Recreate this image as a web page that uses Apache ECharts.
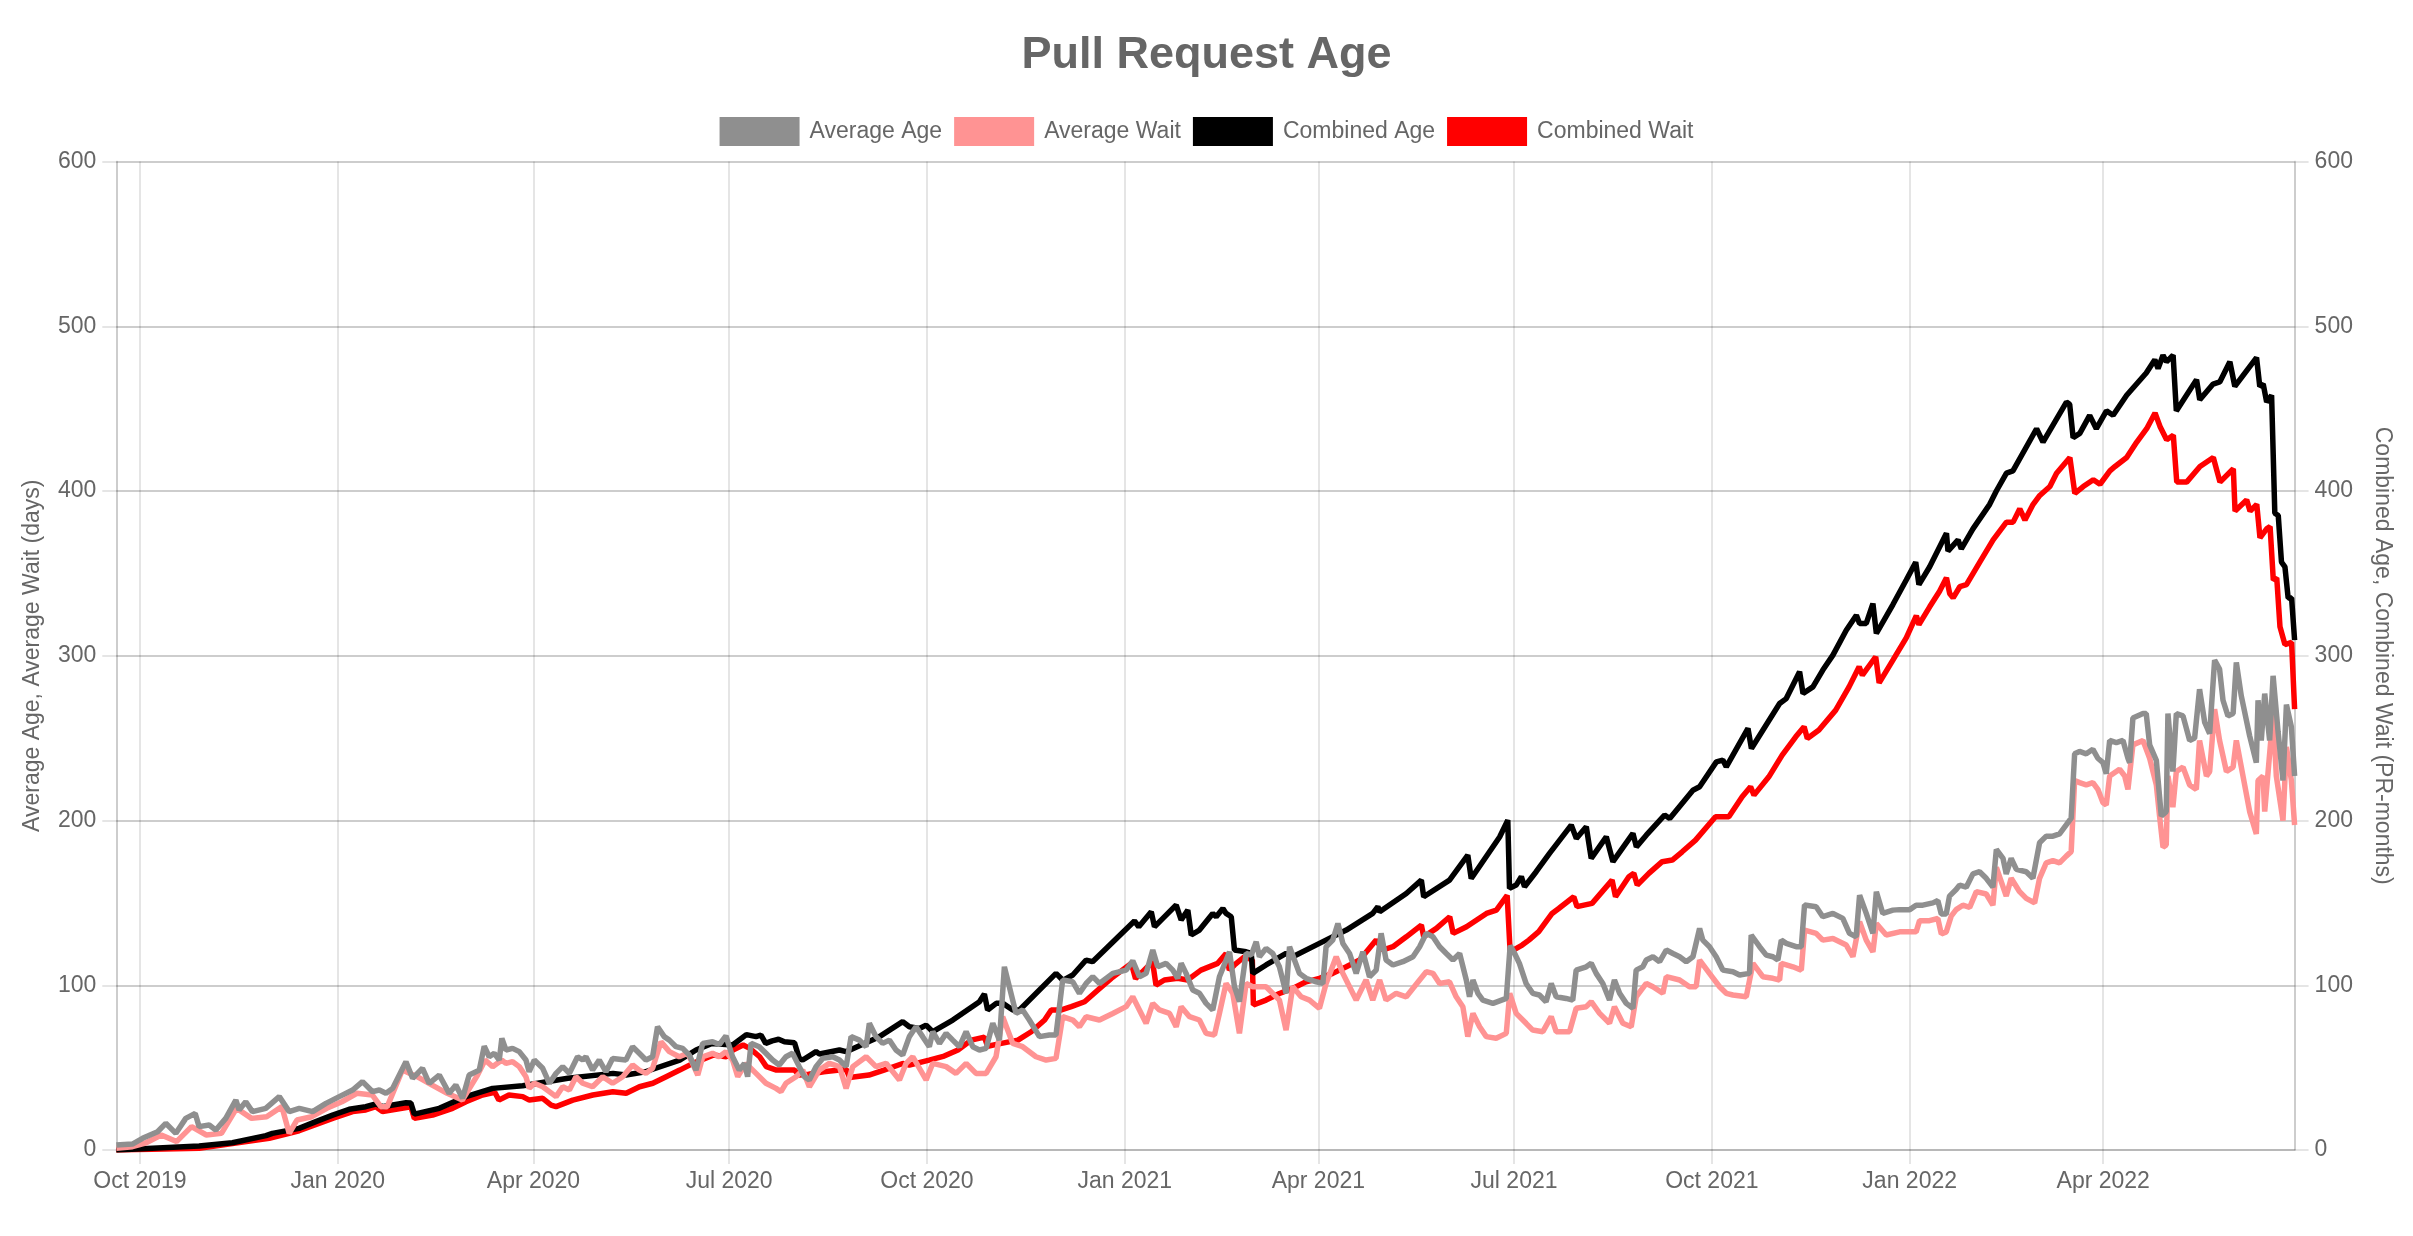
<!DOCTYPE html>
<html>
<head>
<meta charset="utf-8">
<script src="https://cdn.jsdelivr.net/npm/echarts@6/dist/echarts.min.js"></script>
<style>
html,body{margin:0;padding:0;background:#fff;}
#chart{width:2413px;height:1236px;}
</style>
</head>
<body>
<div id="chart"></div>
<script>
// ---- data: x = days since 2019-09-20, y = value ----
const startDate = [2019, 8, 20];
const seriesNames = ['Average Age', 'Average Wait', 'Combined Age', 'Combined Wait'];

const averageAgeDays = [
 0,7.5,12.2,19.2,23,27.7,32.3,36.7,38.5,43.2,
 46.3,50.9,55.6,57.1,60.2,63.3,69.5,75.8,80.4,85.1,
 91.3,97.5,103.7,109.9,114.5,119.2,122.3,125.4,128.5,134.7,
 137.8,142.4,145.5,150.2,154.8,157.9,161,164.1,168.8,171.1,
 173.4,175.8,178.1,179.3,181.2,184.3,187.4,190.5,192,194.4,
 198.3,201.4,204.5,207.6,210.7,214.5,216.9,218.4,221.5,224.6,
 227.7,230.8,237,240.1,243.2,246.3,249.4,251.7,254.8,257.2,
 260.3,263.4,266.5,269.6,272.7,277.3,280.4,283.5,286.6,289.7,
 292.1,293.6,295.2,299,302.1,305.2,308.3,311.4,314.5,317.6,
 320,322.3,325.4,328.5,333.2,336.3,339.4,341.7,345.6,348.7,
 350.2,353.3,356.4,359.5,362.6,365.7,368.8,371.9,375,378.1,
 379.7,382.8,385.9,389,392.1,395.2,398.3,401.4,404.5,407.6,
 410.7,413,415.3,418.4,421.5,424.6,429.3,433.9,437,440.1,
 444.8,447.9,451,454.1,457.2,463.4,469.6,472.7,475.8,478.9,
 482,484.3,488.2,491.3,493.6,495.2,497.5,500.6,503.7,506.8,
 509.9,513,517.7,520,522.3,525.4,527.8,530.1,531.6,534.7,
 537.8,540.9,544,545.6,547.9,550.2,553.3,558,561.1,562.6,
 565.7,568.1,570.4,573.5,576.6,579.7,582.8,585.9,588.2,590.5,
 593.7,598.3,603,606.1,609.2,612.3,615.4,618.5,621.6,624.7,
 627.8,629.3,630.9,633.2,635.5,640.2,646.4,648.2,650.3,652.5,
 655.6,658.7,661.8,664.9,667.3,669.6,674.2,677.3,678.9,683.6,
 685.9,688.2,691.3,694.4,696.7,699.1,702.2,705.3,706.8,709.9,
 711.5,714.6,717.7,720.8,723.9,727,730.1,733.2,736.3,737.8,
 740.9,744,747.1,751.8,754.9,759.5,760.3,764.2,767.3,770.4,
 772.7,774.3,776.6,781.2,783.6,785.1,790.5,793.6,798.3,802.9,
 806,809.1,810.7,813.8,816.9,818.5,821.5,826.2,829.3,834,
 837,840.1,844.8,847.1,848.7,851,852.5,855.6,857.2,860.3,
 863.4,866.5,869.6,872.7,874.3,877.4,878.9,881.2,883.6,888.2,
 891.3,894.4,897.5,900.6,903.7,906.8,909.1,910.7,913,916.1,
 919.2,921.5,923.9,925.4,927,930.1,933.2,935.5,936.3,937.8,
 942.5,944,945.6,948.7,951,953.3,954.1,956.4,958,961.1,
 964.2,966.5,968.8,971.2,973.5,975.8,978.1,979.7,982,984.4,
 985.9,988.2,992.1,995.2,996,997.5,999.1,1001.4,1003,1005.3,
 1007.6,1009.2,1011.5,1013
];
const averageAgeValues = [
 3,3.6,7.1,11.1,16.2,10.1,19.2,22.2,14.2,15.2,
 12.1,19.2,30.3,24.3,29.3,23.3,25.3,32.4,23.3,25.3,
 23.3,28.3,32.4,36.4,41.5,35.4,36.4,34.4,37.4,53.6,
 43.5,49.6,40.5,45.5,34.4,39.4,31.4,45.5,48.5,63,
 56.6,58.7,54.6,67.8,60.7,61.7,59.7,54.6,47.5,54.6,
 49.6,40.5,46.5,50.6,46.5,56.6,54.6,56.6,48.5,54.6,
 47.5,55.6,54.6,62.7,58.7,54.6,56.6,74.8,68.8,66.7,
 62.7,61.7,57.6,48.5,64.7,65.7,64,69.3,56.6,48.5,
 52.6,44.5,64.7,62.7,58.7,54.6,51.6,56.6,58.7,50.6,
 44.5,42.5,50.6,55.6,56.6,54.6,50.6,68.8,66.7,62.7,
 76.9,68.8,64.7,66.7,60.7,57.6,68.8,74.8,68.8,62.7,
 71.8,64.7,70.8,66.7,62.7,71.8,62.7,60.7,61.7,76.9,
 66.7,111.2,99.1,82.9,85,78.9,68.8,69.8,69.8,103.2,
 102.1,95.1,101.1,105.2,101.1,107.2,109.2,114.8,105.2,107.2,
 121.4,111.2,113.3,109.2,104.2,113.3,107.2,97.1,95.1,89,
 85,105.2,120.3,99.1,90,119.3,118.3,126.4,117.3,122.4,
 119.3,111.2,95.1,123.4,115.3,107.2,104.2,102.1,101.1,123.4,
 127.4,137.5,125.4,119.3,107.2,120.3,105.2,109.2,131.5,115.3,
 112.3,114.3,117.3,123.4,131.5,129.4,123.4,119.3,115.3,119.3,
 103.2,93,103.2,95.1,91,89,92,124,119.3,113.3,
 101.1,95.1,94.1,90,101.1,93,92,91,109.2,111.2,
 113.3,107.2,101.1,91,103.2,95.1,89,86,109.2,111.2,
 115.3,117.3,114.3,121.4,119.3,117.3,114.3,117.3,134.5,127.4,
 123.4,117.3,109.2,108.2,106.2,107.2,130.5,123.4,118.3,117.3,
 115.3,127.4,125.4,123.4,123.4,148.7,147.7,141.6,143.6,140.6,
 131.5,129.4,154.7,143.6,131.5,156.8,143.6,145.6,145.9,145.9,
 148.6,148.6,150,151.4,143.2,143.2,154.1,158.1,160.8,159.5,
 167.6,168.9,164.9,159.5,182.4,177,167.6,177,170.3,168.9,
 164.9,186.5,190.5,190.5,191.9,197.3,201.4,240.5,241.9,240.5,
 243.2,237.8,235.1,228.4,248.6,247.3,248.6,237.8,235.1,262.2,
 264.9,264.9,245.9,236.5,202.7,205.4,264.9,229.7,264.9,263.5,
 248.6,250,279.7,259.5,252.7,297.3,291.9,273,263.5,264.9,
 295.9,275.7,251.4,235.1,273,248.6,277,248.6,287.8,254.1,
 224.3,270.3,256.8,227
];

const averageWaitDays = [
 0,7.5,13.9,20.9,28,35,41.9,48.9,55.9,62.9,
 69.9,77,80.4,84,90.9,97.9,104.9,111.9,119,123,
 126,133,139.9,146.9,153.9,160.9,168,171.5,175,179.3,
 181.2,184.3,187.4,190.5,192,194.4,198.3,204.5,207.6,210.7,
 213.8,216.9,221.5,226.2,230.8,235.5,240.1,243.2,246.3,249.4,
 253.3,257.2,261.8,265.7,268,270.4,272.7,277.3,280.4,283.5,
 286.6,289,292.8,297.5,302.1,306.8,309.1,311.4,316.1,319.2,
 322.3,326.9,331.6,336.3,339.4,342.5,348.7,353.3,358,364.2,
 367.3,370.4,376.6,379.7,385.9,390.5,395.2,399.8,404.5,409.1,
 412.2,416.9,421.5,427.7,432.4,437,440.1,444.8,447.9,451,
 457.2,463.4,469.6,472.7,475.8,478.9,482,485.1,489.8,492.9,
 495.2,499.1,503.7,506.8,510.7,513,516.1,519.2,522.3,525.4,
 528.5,534.7,540.9,544,547.1,551,554.9,559.5,562.6,567.3,
 570.4,573.5,576.6,581.2,584.3,587.5,590.5,595.2,599.9,606.1,
 609.2,612.3,615.4,620,623.1,626.2,628.5,630.9,634,637.1,
 641.7,646.4,648,651,655.6,658.7,663.4,667.3,669.6,675.8,
 678.9,683.6,685.9,689.8,694.4,696.7,700.6,704.5,706.8,711.5,
 714.6,719.2,720.8,727,731.6,734.7,736.3,740.9,745.6,748.7,
 751.8,758,761.1,765.7,770.4,773.5,774.3,779.7,783.6,785.1,
 790.5,793.6,798.3,804.5,807.6,810.7,813.8,816.9,818.5,823.1,
 829.3,834,837,838.6,843.2,847.1,848.7,851,853.3,855.6,
 858.7,861.9,865,869.6,872.7,874.3,878.9,881.2,885.1,888.2,
 892.1,894.4,897.5,900.6,903.7,906.8,909.1,910.7,913,916.1,
 919.2,921.5,923.9,925.4,927,931.6,934,935.5,937.8,942.5,
 945.6,948.7,950.2,951.8,953.3,954.1,956.4,958,961.1,964.2,
 967.3,968.8,972,973.5,975.8,978.1,981.3,984.4,985.9,989,
 992.1,995.2,996,998.3,999.1,1000.6,1003,1004.5,1007.6,1009.2,
 1011.5,1013
];
const averageWaitValues = [
 1,2,4.4,9.1,5.1,14.2,9.1,10.1,25.3,19.2,
 20.2,26.3,10.1,18.2,20.2,25.3,29.3,34.4,33.4,26.3,
 26.3,48.5,44.5,39.4,34.4,30.3,45.5,54.6,50.6,54.6,
 52.6,53.6,50.6,44.5,37.4,40.5,38.4,32.4,38.4,36.4,
 44.5,40.5,38.4,44.5,40.5,44.5,51.6,48.5,46.5,49.6,
 65.7,59.7,56.6,58.7,52.6,45.5,56.6,58.7,56.6,59.7,
 54.6,44.5,52.6,46.5,40.5,37.4,35.4,40.5,44.5,48.5,
 38.4,48.5,52.6,50.6,37.4,50.6,56.6,50.6,52.6,42.5,
 52.6,56.6,42.5,52.6,50.6,46.5,52.6,46.5,46.5,56.6,
 80.9,64.7,62.7,56.6,54.6,55.6,80.9,78.9,74.8,80.9,
 78.9,82.9,87,93,85,76.9,89,85,82.9,74.8,
 87,80.9,78.9,70.8,69.8,82.9,101.1,95.1,70.8,101.1,
 99.1,99.1,91,72.8,99.1,93,91,86,101.1,117.3,
 107.2,99.1,91,103.2,91,103.2,91,95.1,93,103.2,
 108.2,107.2,101.1,102.1,93,87,68.8,82.9,74.8,68.8,
 67.8,70.8,95.1,82.9,76.9,72.8,71.8,80.9,71.8,71.8,
 86,87,90,82.9,76.9,87,76.9,74.8,93,101.1,
 99.1,95.1,105.2,103.2,99.1,99.1,115.3,107.2,99.1,95.1,
 94.1,93,113.3,105.2,104.2,103.2,113.3,111.2,109.2,133.5,
 131.5,127.4,128.4,124.4,117.3,138.6,127.4,120.3,137.5,130.5,
 132.4,132.4,132.4,139.2,139.2,140.5,131.1,132.4,141.9,145.9,
 148.6,147.3,156.8,155.4,148.6,171.6,154.1,164.9,156.8,152.7,
 150,164.9,174.3,175.7,174.3,178.4,181.1,224.3,223,221.6,
 223,218.9,210.8,209.5,227,231.1,227,218.9,245.9,248.6,
 237.8,221.6,202.7,183.8,185.1,227,208.1,229.7,232.4,221.6,
 218.9,248.6,227,229.7,267.6,248.6,229.7,232.4,248.6,227,
 205.4,191.9,224.3,227,205.4,228.4,264.9,227,200,244.6,
 224.3,197.3
];

const combinedAgeDays = [
 0,38.5,54,69.6,72.6,85,92.8,100.6,108.3,116,
 120.7,123.8,134.7,137,138.6,150.2,162.6,175,189,196,
 210,231,237,246,262,269.6,277,286.6,293,297.5,
 299.8,302,305,308,310.7,315.4,317.6,319.2,325.4,327,
 336.3,339.4,354.9,365.7,368.8,373.5,376.6,379.7,389,401.4,
 403.7,405.2,409.2,412.3,416.9,420,437,440.2,444.8,451,
 454,473.5,475.5,481.3,482.8,486.7,492.9,495.2,498.3,499.9,
 503.7,509.9,511.5,514.6,516.1,518.5,520,525.4,527.8,528.5,
 534.7,544,547.1,559.5,572,584.3,586.7,587.5,599.9,606.9,
 608,620,628.5,630.1,643.3,647.1,647.9,651,653.4,654.9,
 660.3,666.5,676.6,679,683.6,685.9,692.9,696,705.3,706.9,
 711.5,720,722.4,733.2,736.3,744.1,747.1,748.7,758.8,760.4,
 773.5,776.6,782.8,784.4,789,793.6,798.3,804.5,809.2,810.7,
 813.8,816.9,818.5,826.2,832.4,836.8,838.3,843.3,851.1,851.8,
 856.5,858,863.4,871.2,874.3,879,882,893,896,906.9,
 908.4,910,913.1,917.7,920.8,925.5,928.6,934.9,944,948,
 949.5,951.8,953.4,956.5,958,967.4,968.9,975.1,978.2,982.9,
 985.2,995.3,996.8,998.4,1000,1002.3,1003.8,1005.4,1006.9,1008.5,
 1010,1011.6,1013
];
const combinedAgeValues = [
 0,2.4,4.4,8.7,10.1,13.1,17.2,21.2,24.7,26.3,
 27.9,26.3,28.7,28.5,21.8,25.3,32.4,37.4,39,40.5,
 43.5,46.5,45.5,47.5,54.6,60.7,64.7,63.7,70,68.8,
 69.8,64.7,66.2,67.2,65.7,65.1,55.6,54.6,59.7,58.3,
 60.7,59.7,68.8,77.9,74.8,73.8,75.8,71.8,78.9,90,
 94.7,85,89,89,85,85,107.2,103,106.2,115.3,
 114.3,139,135.5,144.6,135.5,140.6,148.7,139.6,145.6,130.5,
 133.5,143.6,141.6,146.6,143.6,141.6,121.4,120.3,119.3,107.2,
 112.3,119.3,117.3,125.4,133.5,143.6,147.7,144.6,155.7,163.8,
 153.7,163.8,179,164.8,190,200.2,158.8,160.8,165.9,159.8,
 168.9,180,197.2,189.1,196.2,177,190.1,175,192.2,184,
 191.1,203.3,201.2,218.4,220.5,235.6,236.7,232.6,255.9,243.7,
 271,274,290.3,277.1,281.1,291.3,300.4,315.5,324.6,319.6,
 319.6,331.7,313.5,331.1,346,356.8,343.2,354,374.3,363.5,
 370.3,364.9,377,391.9,400,410.8,412.2,437.8,429.7,454,
 452.7,432.4,435,445.9,437.8,448.6,446,458.1,471.6,479.7,
 474.3,482.4,478.4,482.4,448.6,467.6,455.4,464.9,466.2,478.4,
 463.5,481,463.5,464.9,454,458,386.5,385.1,356.8,354,
 335.1,335.1,309.5
];

const combinedWaitDays = [
 0,38.5,71.1,85,100.6,109.9,116,120.7,123.8,137,
 138.6,147.1,156.4,162.6,170.3,176,177.9,182.6,189,192.1,
 198.3,202.2,204.5,212.3,221.6,230.9,237.1,243.3,249.5,255.7,
 262,268.2,277.5,283.7,286.8,291.5,294.6,299.2,302.3,307,
 315.4,317.6,322,329,339.4,341,350,357,365.7,368.8,
 378,385,391.4,397.6,403.7,405.2,411.6,419.3,425.5,431.7,
 434.8,439.5,444.1,450.3,456.5,462.7,472,474,479.6,481.9,
 483.5,487.4,493.6,498.2,504.4,512.2,516.1,517.6,520,524.6,
 528.3,528.8,534.7,540.9,547.1,553.3,559.5,565.7,572,578.2,
 585.9,589,593.7,599.9,606.9,608,613.9,620.1,621.7,627.9,
 637.2,641.8,646.8,648.2,653.8,656.9,661.5,667.7,670.8,677.8,
 679.3,686.3,695.6,697.2,703.4,705.7,707.3,712.7,718.9,723.6,
 728.2,734.4,743.7,749.9,756.1,760,761.6,768.5,774.7,781,
 784.9,786.4,791.8,799.6,805.8,810.5,812,818.2,819.8,826.2,
 832.4,837.1,838.3,843.3,847.9,851.1,852.6,854.2,857.3,860.4,
 866.6,872.8,879,882.1,885.2,887.6,891.4,894.5,899.2,902.3,
 908.5,910.8,914.7,919.4,922.5,927.1,929.5,934.9,939.6,944.2,
 948.1,950.4,953.5,956.6,958.2,962.8,969,975.2,978.3,984.5,
 985.3,990.7,992.3,995.4,996.9,1000,1001.6,1003.1,1004.7,1006.2,
 1008.5,1011.6,1013
];
const combinedWaitValues = [
 0,1,7.1,11.7,19.2,23.3,24.3,26.3,23.3,26.3,
 19.2,21.2,25.3,29.3,33.4,35,30.3,33.4,32.4,30.3,
 31.4,27.3,26.3,30.3,33.4,35.4,34.4,38.4,40.5,44.5,
 48.5,52.6,57.6,56.6,60.7,63.7,61.7,56.6,50.6,48.5,
 48.5,45.5,46,47.5,49,44,45.5,48.5,52.5,51.5,
 54.6,57,60.7,66.7,68.5,63,64.7,66.7,71.8,78.9,
 85,85,87,90,97.1,104.2,113.3,104,111.2,114.3,
 100.1,103.2,104.2,103.2,109.2,113.3,119.3,109.2,112.3,117.3,
 115.3,88,91,95,98.1,102.1,104.2,107.2,111.2,115.3,
 127.4,121.4,123.4,129.4,136.5,129.4,134.5,141.6,131.5,135.5,
 143.6,145.6,154.5,120.3,124.4,127.4,132.5,143.6,146.6,153.7,
 147.7,149.7,163.8,153.7,165.9,167.9,160.8,167.9,175,176,
 181,188.1,202.3,202.3,214.4,220.5,215.4,226.5,239.7,250.8,
 256.9,249.8,254.9,267,281.1,293.3,288.2,299.4,283.5,297.3,
 310.8,324.3,318.9,329.7,339.2,347.3,337.8,335.1,341.9,343.2,
 356.8,370.3,381.1,381.1,389.2,382.4,391.9,397.3,402.7,410.8,
 420.3,398.6,402.7,406.8,404.1,412.2,414.9,420.3,429.7,437.8,
 447.3,439.2,431.1,433.8,405.4,405.4,414.9,420.3,405.4,413.5,
 387.8,394.6,387.8,391.9,371.6,377,378.4,345.9,347.3,317.6,
 306.8,308.1,267.6
];

const yTicks = [0, 100, 200, 300, 400, 500, 600];
const monthNames = ['Jan','Feb','Mar','Apr','May','Jun','Jul','Aug','Sep','Oct','Nov','Dec'];

// ---- build ----
const DAY = 86400000;
const t0 = new Date(startDate[0], startDate[1], startDate[2]).getTime();
const xMin = t0;
const xMax = t0 + 1013 * DAY;
function pairs(days, vals) {
  const n = Math.min(days.length, vals.length);
  const out = [];
  for (let i = 0; i < n; i++) out.push([t0 + days[i] * DAY, vals[i]]);
  return out;
}

const FONT = "'Liberation Sans', Arial, Helvetica, sans-serif";
const TXT = '#666';
const GRID = 'rgba(0,0,0,0.1)';
const colors = ['#8f8f8f', '#ff9393', '#000000', '#ff0000'];
const dataSets = [
  pairs(averageAgeDays, averageAgeValues),
  pairs(averageWaitDays, averageWaitValues),
  pairs(combinedAgeDays, combinedAgeValues),
  pairs(combinedWaitDays, combinedWaitValues)
];

function yAxisCfg(pos, name, rot, gap) {
  return {
    type: 'value', position: pos, min: yTicks[0], max: yTicks[yTicks.length - 1], interval: 100,
    name: name, nameLocation: 'middle', nameRotate: rot, nameGap: gap,
    nameTextStyle: { fontSize: 23, color: TXT, fontFamily: FONT },
    axisLine: { show: true, lineStyle: { color: GRID, width: 2 } },
    axisTick: { show: true, length: 14, lineStyle: { color: GRID, width: 2 } },
    axisLabel: { fontSize: 23, color: TXT, fontFamily: FONT, margin: 20 },
    splitLine: { show: true, lineStyle: { color: GRID, width: 2 } }
  };
}

const chart = echarts.init(document.getElementById('chart'), null, { renderer: 'canvas' });
chart.setOption({
  animation: false,
  backgroundColor: '#ffffff',
  textStyle: { fontFamily: FONT },
  title: {
    text: 'Pull Request Age', left: 'center', top: 28,
    textStyle: { fontSize: 45, fontWeight: 'bold', color: TXT, fontFamily: FONT }
  },
  legend: {
    top: 112, left: 'center', icon: 'rect', itemWidth: 80, itemHeight: 29, itemGap: 12,
    data: seriesNames,
    textStyle: { fontSize: 23, color: TXT, fontFamily: FONT, padding: [0, 0, 0, 5] }
  },
  grid: { left: 116.3, right: 118.4, top: 161.5, bottom: 86, containLabel: false },
  xAxis: {
    type: 'time', min: xMin, max: xMax, splitNumber: 10,
    minInterval: 91 * DAY, maxInterval: 120 * DAY,
    axisLine: { show: true, lineStyle: { color: GRID, width: 2 } },
    axisTick: { show: true, length: 14, lineStyle: { color: GRID, width: 2 } },
    splitLine: { show: true, lineStyle: { color: GRID, width: 2 } },
    axisLabel: {
      fontSize: 23, color: TXT, fontFamily: FONT, margin: 20,
      showMinLabel: false, showMaxLabel: false,
      formatter: function (v) { const d = new Date(v); return monthNames[d.getMonth()] + ' ' + d.getFullYear(); }
    }
  },
  yAxis: [
    yAxisCfg('left', 'Average Age, Average Wait (days)', 90, 72),
    yAxisCfg('right', 'Combined Age, Combined Wait (PR-months)', -90, 76)
  ],
  series: seriesNames.map((n, k) => ({
    name: n, type: 'line', yAxisIndex: k < 2 ? 0 : 1,
    data: dataSets[k], showSymbol: false, smooth: false,
    color: colors[k], z: 10 - k,
    lineStyle: { width: 5.5, color: colors[k] },
    itemStyle: { color: colors[k] }
  }))
});
</script>
</body>
</html>
